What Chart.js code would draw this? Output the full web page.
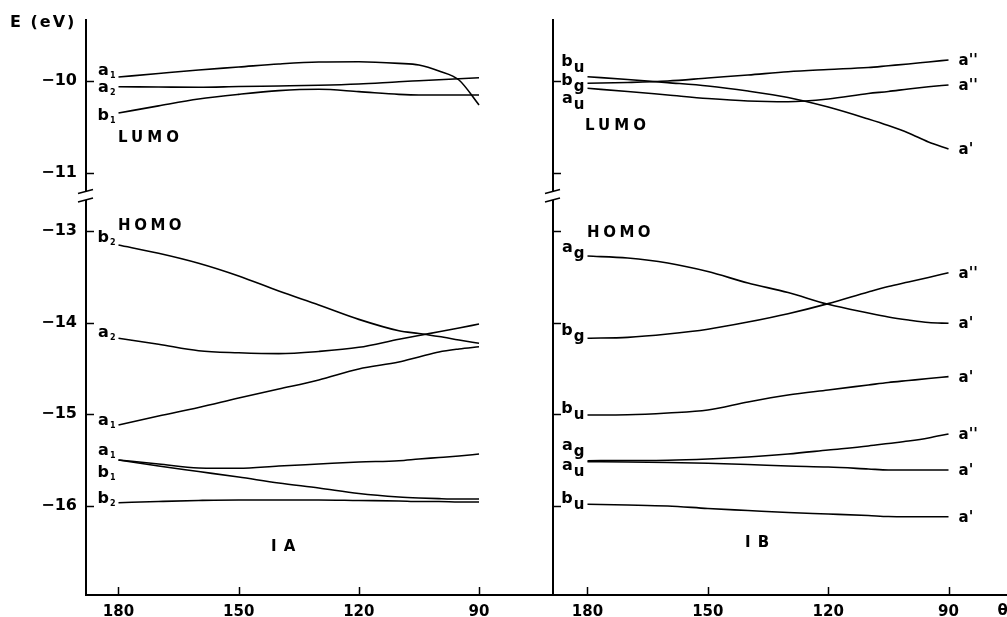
<!DOCTYPE html>
<html><head><meta charset="utf-8">
<script src="https://cdn.jsdelivr.net/npm/chart.js@4/dist/chart.umd.min.js"></script>
<style>
html,body{margin:0;padding:0;background:#fff;overflow:hidden}
#wrap{position:relative;width:1007px;height:617px;background:#fff}
canvas{position:absolute;left:0;top:0}
</style></head><body>
<div id="wrap"><canvas id="cA" width="1007" height="617"></canvas><canvas id="cB" width="1007" height="617"></canvas></div>
<script>
// ---- data ----
const thetas = [180,170,160,150,140,130,120,110,105,100,95,90];
const xTicks = [180,150,120,90];
const yTopTicks = [-10,-11];
const yBottomTicks = [-13,-14,-15,-16];

// Panel IA
const IA_lumo_a1 = [-9.957,-9.918,-9.880,-9.848,-9.815,-9.793,-9.790,-9.808,-9.826,-9.891,-9.989,-10.261];
const IA_lumo_a2 = [-10.062,-10.065,-10.068,-10.060,-10.054,-10.047,-10.033,-10.008,-9.997,-9.986,-9.975,-9.964];
const IA_lumo_b1 = [-10.348,-10.270,-10.196,-10.145,-10.105,-10.090,-10.116,-10.145,-10.152,-10.152,-10.152,-10.152];
const IA_homo_b2 = [-13.153,-13.243,-13.352,-13.491,-13.655,-13.807,-13.964,-14.088,-14.118,-14.151,-14.189,-14.225];
const IA_homo_a2 = [-14.170,-14.235,-14.306,-14.328,-14.338,-14.314,-14.269,-14.181,-14.140,-14.099,-14.058,-14.015];
const IA_homo_a1 = [-15.116,-15.018,-14.925,-14.822,-14.724,-14.625,-14.505,-14.429,-14.374,-14.320,-14.287,-14.262];
const IA_low_a1 = [-15.498,-15.542,-15.585,-15.589,-15.564,-15.542,-15.520,-15.506,-15.487,-15.471,-15.454,-15.433];
const IA_low_b1 = [-15.498,-15.564,-15.624,-15.684,-15.749,-15.804,-15.864,-15.902,-15.913,-15.920,-15.924,-15.924];
const IA_low_b2 = [-15.964,-15.951,-15.940,-15.934,-15.934,-15.934,-15.940,-15.945,-15.951,-15.951,-15.956,-15.956];
const IA_startLabels = ['a1','a2','b1','b2','a2','a1','a1','b1','b2'];

// Panel IB
const IB_lumo_bu = [-9.953,-9.984,-10.018,-10.054,-10.109,-10.179,-10.283,-10.413,-10.484,-10.565,-10.663,-10.739];
const IB_lumo_bg = [-10.025,-10.016,-10.000,-9.967,-9.935,-9.899,-9.875,-9.853,-9.834,-9.815,-9.793,-9.772];
const IB_lumo_au = [-10.079,-10.114,-10.152,-10.190,-10.217,-10.225,-10.196,-10.136,-10.114,-10.087,-10.063,-10.043];
const IB_homo_ag = [-13.273,-13.295,-13.349,-13.442,-13.567,-13.671,-13.800,-13.895,-13.938,-13.971,-13.998,-14.007];
const IB_homo_bg = [-14.170,-14.160,-14.124,-14.072,-13.993,-13.902,-13.792,-13.665,-13.605,-13.556,-13.507,-13.455];
const IB_homo_bu = [-15.007,-15.004,-14.985,-14.953,-14.865,-14.789,-14.734,-14.680,-14.653,-14.631,-14.609,-14.589];
const IB_low_ag = [-15.506,-15.504,-15.501,-15.487,-15.465,-15.433,-15.389,-15.345,-15.318,-15.291,-15.258,-15.214];
const IB_low_au = [-15.517,-15.520,-15.525,-15.534,-15.547,-15.564,-15.575,-15.596,-15.607,-15.607,-15.607,-15.607];
const IB_low_bu = [-15.981,-15.989,-16.000,-16.027,-16.049,-16.071,-16.087,-16.104,-16.115,-16.117,-16.117,-16.117];
const IB_startLabels = ['bu','bg','au','ag','bg','bu','ag','au','bu'];
const IB_endLabels = ["a'","a''","a''","a'","a''","a'","a''","a'","a'"];

// ---- style / layout (not data) ----
const IA_startDy = [-2,5,7,-3,-1,0,-5,17,0];
const IB_startDy = [-11,2,15,-4,-3,-2,-11,8,-1];
const FONT = 'DejaVu Sans';

function ds(values, axis){
  return { data: thetas.map((t,i)=>({x:t,y:values[i]})), yAxisID: axis,
    borderColor:'#000', borderWidth:1.6, pointRadius:0, fill:false,
    cubicInterpolationMode:'monotone' };
}

function scalesFor(xmin, xmax, yWidth, showY){
  const tickFont = {family: FONT, weight:'bold', size:15};
  const yCommon = (ticksArr) => ({
    type:'linear', position:'left', stack:'E',
    afterBuildTicks: s => { s.ticks = ticksArr.map(v=>({value:v})); },
    afterFit: s => { s.width = yWidth; },
    grid:{display:false, drawTicks:false},
    border:{display:true, color:'#000', width:2},
    ticks:{display:showY, color:'#000', font:{family: FONT, weight:'bold', size:16}, padding:9,
      callback: v => '\u2212' + Math.abs(v)}
  });
  // order matters: left-stacked boxes are placed in reverse index order (last = top)
  return {
    x: { type:'linear', reverse:true, min:xmin, max:xmax,
      afterBuildTicks: s => { s.ticks = xTicks.map(v=>({value:v})); },
      afterFit: s => { s.height = 22; },
      grid:{display:false, drawTicks:false},
      border:{display:true, color:'#000', width:2},
      ticks:{color:'#000', font:tickFont, padding:8, maxRotation:0, autoSkip:false} },
    yB: Object.assign(yCommon(yBottomTicks), {min:-16.971, max:-12.618, stackWeight:399}),
    yT: Object.assign(yCommon(yTopTicks), {min:-11.25, max:-9.337, stackWeight:176})
  };
}

function spacedText(ctx, txt, x, y, font, spacing, align){
  ctx.save();
  ctx.font = font;
  try { ctx.letterSpacing = spacing + 'px'; } catch(e){}
  let w = ctx.measureText(txt).width;
  let x0 = x;
  if (align === 'center') x0 = x - (w - spacing)/2;
  ctx.textAlign = 'left'; ctx.textBaseline = 'alphabetic';
  ctx.fillStyle = '#000';
  ctx.fillText(txt, x0, y);
  ctx.restore();
}

function labelWithSub(ctx, main, sub, xRight, baseline, mainFont, subFont, subDy){
  ctx.save();
  ctx.fillStyle = '#000'; ctx.textAlign='left'; ctx.textBaseline='alphabetic';
  ctx.font = mainFont; const wm = ctx.measureText(main).width;
  ctx.font = subFont; const ws = sub ? ctx.measureText(sub).width : 0;
  const x0 = xRight - wm - ws - 1;
  ctx.font = mainFont; ctx.fillText(main, x0, baseline);
  if (sub){ ctx.font = subFont; ctx.fillText(sub, x0 + wm + 1, baseline + subDy); }
  ctx.restore();
}

function decorPlugin(cfg){
  return {
    id:'decor'+cfg.name,
    afterDraw(chart){
      const ctx = chart.ctx;
      const sx = chart.scales.x, yT = chart.scales.yT, yB = chart.scales.yB;
      const ax = yT.right;
      ctx.save();
      ctx.strokeStyle = '#000'; ctx.lineWidth = 1.5;
      // inner tick marks
      [yT, yB].forEach(sc => sc.ticks.forEach(t => {
        const py = Math.round(sc.getPixelForValue(t.value)) + 0.5;
        ctx.beginPath(); ctx.moveTo(ax, py); ctx.lineTo(ax + 8, py); ctx.stroke();
      }));
      sx.ticks.forEach(t => {
        const px = Math.round(sx.getPixelForValue(t.value)) + 0.5;
        ctx.beginPath(); ctx.moveTo(px, sx.top); ctx.lineTo(px, sx.top - 8); ctx.stroke();
      });
      // axis break
      const yb = yT.bottom;
      ctx.fillStyle = '#fff';
      ctx.fillRect(ax - 3, yb - 4, 6, 8);
      ctx.lineWidth = 1.4;
      [-4.5, 4].forEach(d => {
        ctx.beginPath(); ctx.moveTo(ax - 8, yb + d + 2); ctx.lineTo(ax + 7, yb + d - 2); ctx.stroke();
      });
      ctx.restore();

      // curve labels
      chart.data.datasets.forEach((d, i) => {
        const meta = chart.getDatasetMeta(i);
        const p0 = meta.data[0], pN = meta.data[meta.data.length - 1];
        const lab = cfg.start[i];
        labelWithSub(ctx, lab[0], lab.slice(1), p0.x - 3, p0.y + cfg.startDy[i],
          'bold 16px ' + FONT, cfg.subFont, cfg.subDy);
        if (cfg.end){
          spacedText(ctx, cfg.end[i], pN.x + 10, pN.y + 5, 'bold 15px ' + FONT, 0, 'left');
        }
      });

      // text annotations
      cfg.texts.forEach(t => {
        const px = sx.getPixelForValue(t.x);
        const sc = chart.scales[t.axis];
        const py = sc.getPixelForValue(t.y);
        spacedText(ctx, t.text, px, py, 'bold 15px ' + FONT, t.spacing, t.align);
      });
      if (cfg.extra) cfg.extra(chart, ctx);
    }
  };
}

const common = { animation:false, responsive:false, events:[],
  plugins:{legend:{display:false}, tooltip:{enabled:false}} };

// Panel IA chart
new Chart(document.getElementById('cA'), {
  type:'line',
  data:{ datasets:[
    ds(IA_lumo_a1,'yT'), ds(IA_lumo_a2,'yT'), ds(IA_lumo_b1,'yT'),
    ds(IA_homo_b2,'yB'), ds(IA_homo_a2,'yB'), ds(IA_homo_a1,'yB'),
    ds(IA_low_a1,'yB'), ds(IA_low_b1,'yB'), ds(IA_low_b2,'yB') ]},
  options: Object.assign({}, common, {
    layout:{padding:{top:20, right:454, bottom:0, left:0}},
    scales: scalesFor(71.53, 188.11, 86, true)
  }),
  plugins:[decorPlugin({
    name:'A', start:IA_startLabels, startDy:IA_startDy,
    subFont:'bold 8px ' + FONT, subDy:3,
    texts:[
      {text:'LUMO', x:180.1, y:-10.663, axis:'yT', spacing:4, align:'left'},
      {text:'HOMO', x:180.1, y:-12.989, axis:'yB', spacing:3.5, align:'left'},
      {text:'I A', x:138.9, y:-16.491, axis:'yB', spacing:1, align:'center'}
    ],
    extra:(chart, ctx) => { spacedText(ctx, 'E (eV)', 10, 27, 'bold 16px ' + FONT, 2, 'left'); }
  })]
});

// Panel IB chart
new Chart(document.getElementById('cB'), {
  type:'line',
  data:{ datasets:[
    ds(IB_lumo_bu,'yT'), ds(IB_lumo_bg,'yT'), ds(IB_lumo_au,'yT'),
    ds(IB_homo_ag,'yB'), ds(IB_homo_bg,'yB'), ds(IB_homo_bu,'yB'),
    ds(IB_low_ag,'yB'), ds(IB_low_au,'yB'), ds(IB_low_bu,'yB') ]},
  options: Object.assign({}, common, {
    layout:{padding:{top:20, right:0, bottom:0, left:543}},
    scales: scalesFor(75.42, 188.6, 10, false)
  }),
  plugins:[decorPlugin({
    name:'B', start:IB_startLabels, startDy:IB_startDy, end:IB_endLabels,
    subFont:'bold 15px ' + FONT, subDy:6,
    texts:[
      {text:'LUMO', x:180.6, y:-10.533, axis:'yT', spacing:4, align:'left'},
      {text:'HOMO', x:180.1, y:-13.065, axis:'yB', spacing:3.5, align:'left'},
      {text:'I B', x:137.7, y:-16.447, axis:'yB', spacing:1, align:'center'}
    ],
    extra:(chart, ctx) => {
      const sx = chart.scales.x;
      spacedText(ctx, '\u03B8', sx.getPixelForValue(76.5), 615, 'bold 15px ' + FONT, 0, 'center');
    }
  })]
});
</script>
</body></html>
